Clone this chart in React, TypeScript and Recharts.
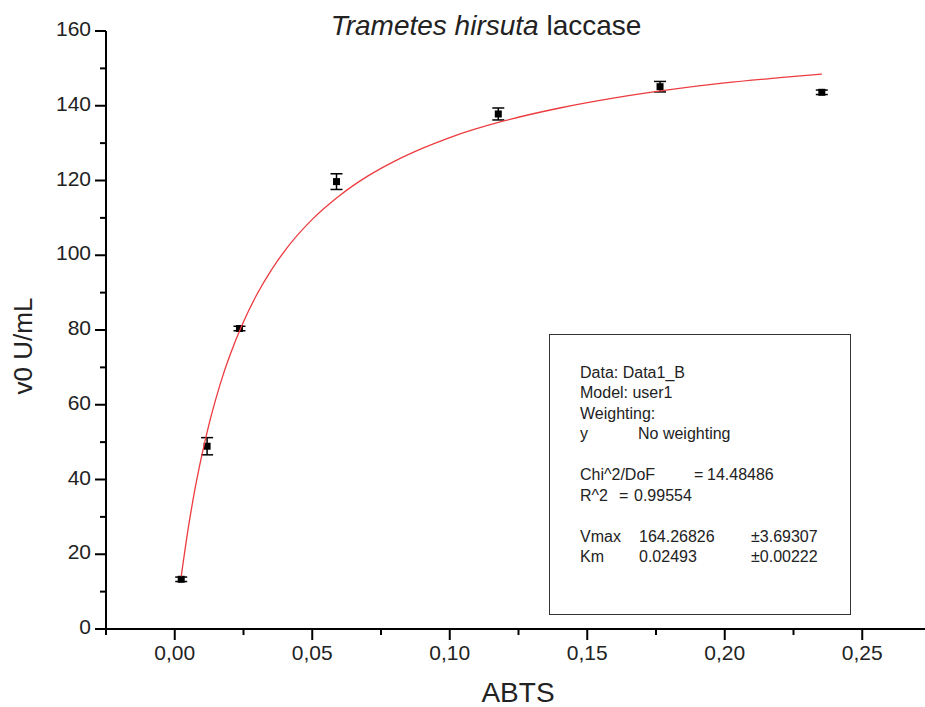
import React from 'react'
import { ComposedChart, Line, Scatter, ErrorBar, XAxis, YAxis } from 'recharts'

// measured points (ABTS, v0) with error bars
const abts = [0.00235, 0.01176, 0.02353, 0.05882, 0.11765, 0.17647, 0.23529]
const v0 = [13.3, 48.9, 80.4, 119.7, 137.8, 145.1, 143.6]
const v0Err = [0.6, 2.3, 0.6, 2.1, 1.6, 1.4, 0.6]

// fitted curve
const fitX = [
  0.00235, 0.005, 0.0075, 0.01, 0.0125, 0.015, 0.0175, 0.02, 0.025, 0.03, 0.035, 0.04, 0.05,
  0.06, 0.07, 0.08, 0.09, 0.1, 0.12, 0.14, 0.16, 0.18, 0.2, 0.22, 0.2353,
]
const fitV = [
  14.1, 27.4, 38.0, 47.0, 54.9, 61.7, 67.8, 73.1, 82.2, 89.7, 95.9, 101.2, 109.6, 116.0, 121.1,
  125.2, 128.6, 131.5, 136.0, 139.4, 142.1, 144.3, 146.1, 147.5, 148.5,
]

const xTicks = [-0.025, 0, 0.025, 0.05, 0.075, 0.1, 0.125, 0.15, 0.175, 0.2, 0.225, 0.25, 0.275]
const yTicks = [0, 10, 20, 30, 40, 50, 60, 70, 80, 90, 100, 110, 120, 130, 140, 150, 160]

const statsRows: { text: string; left: number; row: number }[] = [
  { text: 'Data: Data1_B', left: 580, row: 0 },
  { text: 'Model: user1', left: 580, row: 1 },
  { text: 'Weighting:', left: 580, row: 2 },
  { text: 'y', left: 580, row: 3 },
  { text: 'No weighting', left: 638, row: 3 },
  { text: 'Chi^2/DoF', left: 580, row: 5 },
  { text: '=', left: 694, row: 5 },
  { text: '14.48486', left: 707, row: 5 },
  { text: 'R^2', left: 580, row: 6 },
  { text: '=', left: 619, row: 6 },
  { text: '0.99554', left: 634, row: 6 },
  { text: 'Vmax', left: 580, row: 8 },
  { text: '164.26826', left: 639, row: 8 },
  { text: '±3.69307', left: 751, row: 8 },
  { text: 'Km', left: 580, row: 9 },
  { text: '0.02493', left: 639, row: 9 },
  { text: '±0.00222', left: 751, row: 9 },
]

const points = abts.map((x, i) => ({ x, v: v0[i], err: v0Err[i] }))
const fit = fitX.map((x, i) => ({ x, v: fitV[i] }))

const FONT = '"Liberation Sans", Arial, sans-serif'
const TICK = 11
const MINOR = 6
const X_MARGIN = 5
const Y_MARGIN = 4

const isMajor = (v: number, step: number) => Math.abs(v / step - Math.round(v / step)) < 1e-6

function XTick({ x, y, payload }: any) {
  const v = payload.value
  const major = isMajor(v, 0.05)
  const axisY = y - TICK - X_MARGIN
  return (
    <g>
      <line x1={x} x2={x} y1={axisY} y2={axisY + (major ? TICK : MINOR)} stroke="#000" strokeWidth={2} />
      {major && (
        <text x={x} y={y} dy="0.71em" textAnchor="middle" fontSize={21} fill="#222" fontFamily={FONT}>
          {v.toFixed(2).replace('.', ',')}
        </text>
      )}
    </g>
  )
}

function YTick({ x, y, payload }: any) {
  const v = payload.value
  const major = isMajor(v, 20)
  const axisX = x + TICK + Y_MARGIN
  return (
    <g>
      <line x1={axisX - (major ? TICK : MINOR)} x2={axisX} y1={y} y2={y} stroke="#000" strokeWidth={2} />
      {major && (
        <text x={x} y={y} dy={5} textAnchor="end" fontSize={21} fill="#222" fontFamily={FONT}>
          {v}
        </text>
      )}
    </g>
  )
}

const Square = ({ cx, cy }: any) => <rect x={cx - 3.5} y={cy - 3.5} width={7} height={7} fill="#000" />

export default function App() {
  return (
    <div
      style={{
        position: 'absolute',
        left: 0,
        top: 0,
        width: 925,
        height: 707,
        overflow: 'hidden',
        background: '#fff',
        fontFamily: FONT,
        color: '#222',
      }}
    >
      <ComposedChart width={939} height={707} margin={{ top: 31, right: 8, bottom: 0, left: 0 }}>
        <XAxis
          type="number"
          dataKey="x"
          domain={[-0.025, 0.275]}
          ticks={xTicks}
          interval={0}
          height={78}
          tickSize={TICK}
          tickMargin={X_MARGIN}
          tickLine={false}
          axisLine={{ stroke: '#000', strokeWidth: 2 }}
          tick={<XTick />}
        />
        <YAxis
          type="number"
          dataKey="v"
          domain={[0, 160]}
          ticks={yTicks}
          interval={0}
          width={106}
          tickSize={TICK}
          tickMargin={Y_MARGIN}
          tickLine={false}
          axisLine={{ stroke: '#000', strokeWidth: 2 }}
          tick={<YTick />}
        />
        <Scatter data={points} dataKey="v" shape={<Square />} isAnimationActive={false}>
          <ErrorBar dataKey="err" direction="y" width={6} stroke="#000" strokeWidth={1.5} />
        </Scatter>
        <Line
          data={fit}
          dataKey="v"
          type="monotone"
          stroke="#ec3b3f"
          strokeWidth={1.3}
          dot={false}
          activeDot={false}
          isAnimationActive={false}
          zIndex={700}
        />
      </ComposedChart>

      <div
        style={{
          position: 'absolute',
          left: 286,
          top: 12,
          width: 400,
          textAlign: 'center',
          fontSize: 28,
          lineHeight: '28px',
          whiteSpace: 'nowrap',
        }}
      >
        <i>Trametes hirsuta</i> laccase
      </div>
      <div
        style={{
          position: 'absolute',
          left: 418,
          top: 679,
          width: 200,
          textAlign: 'center',
          fontSize: 28,
          lineHeight: '28px',
        }}
      >
        ABTS
      </div>
      <div
        style={{
          position: 'absolute',
          left: -77,
          top: 333,
          width: 200,
          textAlign: 'center',
          fontSize: 26,
          lineHeight: '26px',
          transform: 'rotate(-90deg)',
          whiteSpace: 'nowrap',
        }}
      >
        v0 U/mL
      </div>

      <div
        style={{
          position: 'absolute',
          left: 549,
          top: 334,
          width: 302,
          height: 281,
          boxSizing: 'border-box',
          border: '1.5px solid #333',
        }}
      />
      {statsRows.map((r, i) => (
        <div
          key={i}
          style={{
            position: 'absolute',
            left: r.left,
            top: 378 + r.row * 20.5 - 13.5,
            fontSize: 16,
            lineHeight: '16px',
            whiteSpace: 'pre',
            color: '#222',
          }}
        >
          {r.text}
        </div>
      ))}
    </div>
  )
}
